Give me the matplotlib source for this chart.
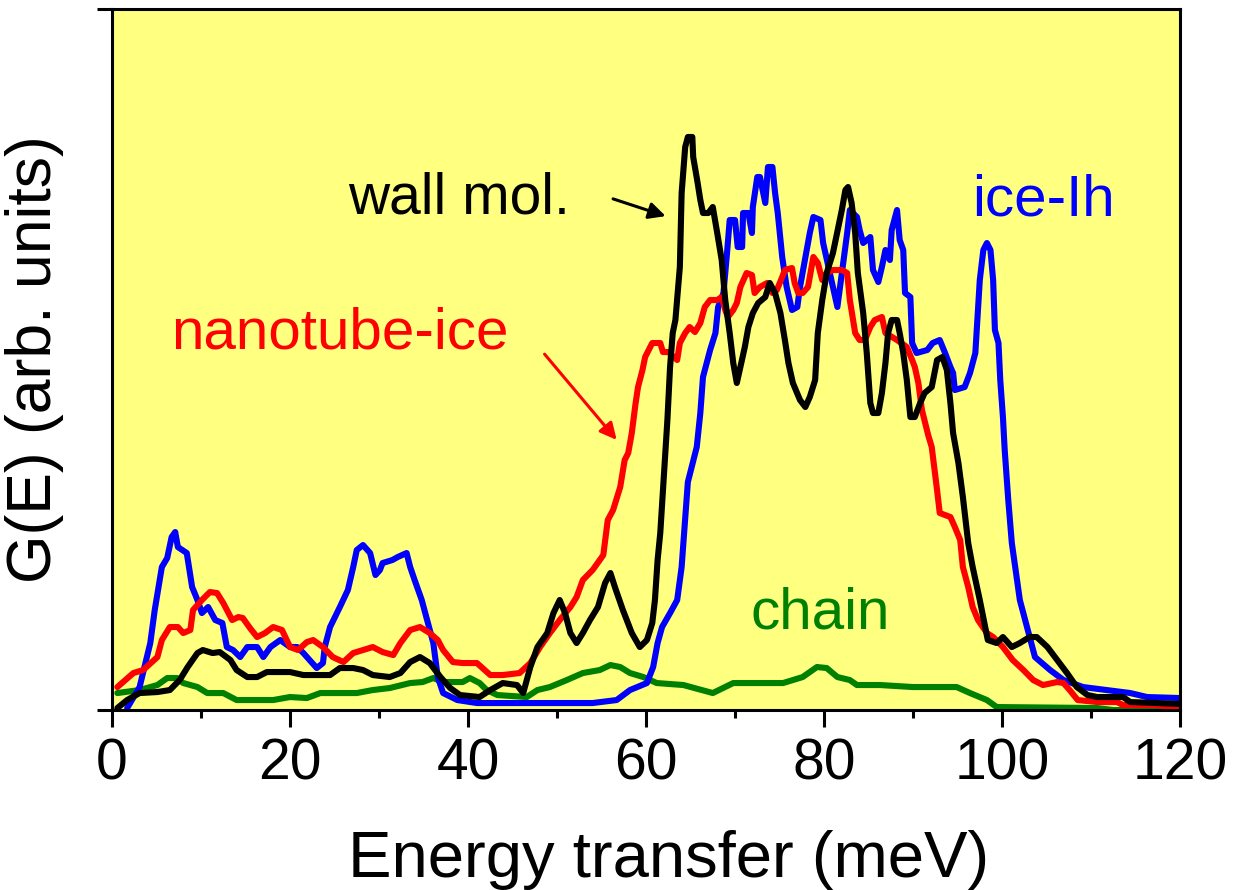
import matplotlib
matplotlib.use('Agg')
import matplotlib.pyplot as plt
from matplotlib.ticker import MultipleLocator

plt.rcParams.update({
    'font.family': ['Liberation Sans', 'DejaVu Sans'],
    'axes.linewidth': 2.2,
})

YELLOW = '#FFFF80'
BLUE = '#0000FF'
RED = '#FF0000'
GREEN = '#008000'
BLACK = '#000000'

# ice-Ih
ice_E = [1.7, 3.1, 4.3, 4.8, 5.6, 6.2, 6.7, 7.1, 7.4, 8.4, 9.0, 9.6, 10.1, 10.8, 11.6,
         12.4, 12.9, 13.6, 14.4, 15.2, 16.3, 17.0, 17.8, 18.9, 20.0, 20.8, 21.5, 22.5,
         23.0, 23.7, 23.9, 24.5, 25.6, 26.5, 27.1, 27.5, 28.2, 29.0, 29.6, 30.1, 30.4,
         31.5, 32.1, 33.1, 33.5, 34.0, 34.8, 35.4, 36.1, 36.6, 37.2, 38.8, 41.0, 54.0,
         56.7, 58.2, 60.1, 60.8, 61.3, 61.8, 62.7, 63.5, 64.0, 64.7, 65.7, 66.1, 66.4,
         67.2, 67.8, 68.1, 68.7, 69.1, 69.4, 70.0, 70.3, 70.8, 70.9, 71.5, 71.9, 72.0,
         72.5, 72.8, 73.4, 73.7, 74.2, 74.5, 74.8, 75.3, 75.8, 76.4, 77.0, 77.3, 78.4,
         78.8, 79.6, 79.9, 80.4, 81.0, 81.5, 81.8, 82.6, 82.9, 83.7, 84.0, 84.4, 85.2,
         85.5, 86.1, 86.5, 86.9, 87.4, 87.6, 88.2, 88.5, 88.9, 89.1, 89.7, 89.9, 90.4,
         91.6, 92.2, 93.0, 93.6, 94.2, 94.5, 94.7, 95.8, 96.4, 97.0, 97.3, 97.5, 97.9,
         98.3, 98.7, 99.0, 99.2, 99.6, 99.8, 100.1, 100.3, 100.7, 101.1, 102.0, 102.9,
         103.7, 105.4, 106.9, 109.1, 111.8, 114.4, 116.3, 120.0]
ice_G = [2, 23, 67, 100, 143, 152, 173, 178, 163, 157, 123, 110, 97, 103, 90,
         87, 63, 60, 53, 63, 63, 53, 63, 70, 63, 63, 57, 47,
         42, 47, 63, 83, 103, 120, 143, 160, 165, 157, 135, 140, 147,
         150, 153, 157, 143, 130, 110, 90, 67, 33, 17, 10, 7, 7,
         10, 20, 27, 43, 67, 83, 97, 110, 143, 228, 263, 297, 333,
         360, 377, 403, 417, 457, 490, 490, 463, 463, 497, 497, 477, 503,
         533, 533, 507, 543, 543, 517, 497, 453, 423, 400, 403, 423, 477,
         493, 490, 467, 447, 423, 403, 423, 477, 500, 493, 480, 467, 473,
         440, 428, 443, 460, 450, 480, 500, 470, 460, 417, 413, 367, 357,
         360, 367, 370, 357, 343, 337, 320, 323, 337, 357, 400, 430, 460,
         467, 460, 430, 380, 367, 330, 293, 260, 210, 167, 110, 80,
         53, 40, 30, 23, 20, 17, 13, 12]

# nanotube-ice
tube_E = [0.6, 2.4, 3.5, 5.1, 5.6, 6.5, 7.4, 8.0, 8.8, 9.1, 10.1, 11.0, 11.8, 12.5, 13.5,
          14.2, 14.7, 15.5, 16.3, 17.2, 18.1, 19.1, 20.0, 20.9, 21.9, 22.6, 23.7, 24.8,
          26.0, 27.1, 28.2, 29.3, 30.4, 31.6, 32.4, 33.5, 34.6, 35.7, 36.6, 37.2, 38.3,
          39.4, 41.0, 42.5, 43.9, 45.8, 47.0, 48.1, 49.2, 50.3, 51.5, 52.2, 52.9, 54.0,
          55.2, 55.7, 56.3, 57.1, 57.6, 58.0, 58.4, 58.8, 59.1, 59.6, 59.9, 60.7, 61.6,
          61.9, 62.5, 63.5, 63.8, 64.4, 64.9, 65.5, 66.1, 66.6, 67.2, 68.0, 68.5, 68.9,
          69.2, 69.8, 70.2, 70.6, 71.3, 71.9, 72.2, 72.8, 73.6, 74.2, 74.7, 75.3, 75.6,
          76.4, 76.7, 77.1, 77.6, 78.2, 78.8, 79.3, 79.8, 80.3, 81.0, 82.0, 82.6, 82.9,
          83.5, 84.0, 84.6, 85.2, 85.7, 86.5, 86.9, 88.2, 89.3, 89.9, 90.2, 90.6, 91.0,
          91.7, 92.1, 92.7, 93.0, 94.2, 94.7, 95.3, 95.6, 96.2, 96.7, 97.3, 98.3, 99.0,
          100.1, 101.2, 102.4, 103.5, 104.6, 106.2, 106.9, 107.6, 108.5, 110.7, 112.9,
          113.6, 117.0, 120.0]
tube_G = [23, 37, 40, 53, 70, 83, 83, 77, 80, 100, 110, 118, 117, 107, 90,
          93, 92, 82, 73, 77, 83, 80, 63, 60, 68, 70, 63, 53,
          48, 57, 60, 63, 58, 55, 67, 80, 83, 77, 70, 60, 48,
          47, 47, 35, 35, 37, 47, 63, 77, 90, 103, 113, 130, 140,
          155, 190, 200, 223, 250, 257, 277, 305, 323, 340, 353, 367, 367,
          358, 358, 350, 367, 377, 383, 378, 387, 403, 410, 410, 413, 400,
          393, 400, 407, 423, 437, 435, 417, 423, 427, 417, 420, 433, 440,
          442, 427, 417, 417, 423, 453, 447, 430, 437, 440, 440, 437, 410,
          377, 370, 370, 383, 390, 393, 377, 370, 363, 350, 343, 327, 300,
          275, 263, 220, 197, 193, 183, 170, 143, 123, 103, 90, 77, 73,
          63, 50, 40, 30, 25, 28, 27, 20, 10, 8, 8,
          5, 5, 3]

# wall molecules
wall_E = [0.6, 1.7, 3.1, 5.1, 6.5, 7.6, 8.5, 9.6, 10.2, 11.3, 12.1, 13.3, 14.0, 15.2, 16.3,
          17.4, 20.0, 21.5, 24.5, 25.6, 27.1, 28.2, 29.3, 31.2, 32.4, 33.5, 34.6, 35.7,
          36.9, 38.0, 39.1, 41.3, 42.5, 43.9, 45.5, 46.2, 47.0, 47.8, 48.9, 49.6, 50.3,
          50.9, 51.5, 52.2, 52.9, 53.7, 54.6, 55.4, 56.0, 56.5, 57.4, 58.4, 59.3, 60.1,
          60.7, 61.0, 61.3, 61.6, 61.9, 62.4, 62.7, 63.0, 63.3, 63.8, 64.0, 64.4, 64.7,
          65.2, 65.3, 65.8, 66.1, 66.4, 67.0, 67.5, 68.0, 68.5, 68.9, 69.4, 69.8, 70.2,
          70.6, 71.1, 71.5, 72.0, 72.6, 73.4, 73.9, 74.5, 75.1, 75.6, 76.0, 76.5, 77.3,
          77.9, 78.4, 79.0, 79.3, 79.8, 80.3, 81.0, 81.6, 82.0, 82.4, 82.7, 83.1, 83.5,
          83.8, 84.4, 84.8, 85.2, 85.5, 86.1, 86.5, 86.9, 87.2, 87.6, 88.2, 88.5, 88.9,
          89.3, 89.7, 90.2, 90.8, 91.3, 92.1, 92.7, 93.3, 93.8, 94.2, 94.5, 95.1, 95.6,
          96.2, 96.7, 97.5, 98.1, 98.4, 99.4, 100.1, 101.1, 102.0, 103.1, 103.9, 105.1,
          106.2, 107.3, 108.4, 109.6, 110.7, 113.6, 114.4, 117.4, 120.0]
wall_G = [2, 10, 17, 18, 20, 30, 43, 57, 60, 57, 58, 50, 40, 33, 33,
          38, 38, 35, 35, 42, 42, 40, 35, 33, 37, 48, 53, 47,
          33, 22, 15, 13, 20, 27, 25, 17, 43, 63, 77, 97, 110,
          97, 77, 67, 77, 90, 103, 127, 137, 123, 100, 77, 63, 70,
          87, 110, 150, 177, 220, 290, 343, 377, 390, 443, 517, 563, 573,
          573, 553, 527, 510, 497, 497, 503, 477, 450, 410, 377, 347, 327,
          343, 363, 383, 397, 407, 413, 427, 417, 397, 370, 347, 327, 310,
          303, 313, 330, 377, 410, 437, 457, 483, 500, 520, 523, 507, 477,
          437, 397, 357, 307, 297, 297, 317, 347, 377, 390, 390, 377, 357,
          330, 293, 293, 307, 317, 323, 350, 353, 340, 307, 277, 247, 213,
          167, 143, 110, 83, 70, 67, 73, 63, 67, 73, 73, 63,
          50, 37, 23, 15, 13, 13, 8, 7, 6]

# chain
chain_E = [0.6, 3.1, 5.1, 6.2, 7.3, 8.0, 9.6, 10.7, 12.5, 14.0, 18.1, 20.0, 21.9, 23.4,
           27.5, 29.3, 31.2, 33.5, 34.9, 36.1, 37.2, 39.4, 40.2, 41.3, 42.1, 43.3, 46.6,
           47.8, 49.2, 51.1, 52.9, 54.8, 56.0, 57.1, 58.2, 59.7, 61.2, 64.2, 67.5, 69.8,
           72.5, 75.4, 77.6, 79.2, 80.3, 81.5, 82.9, 83.7, 86.3, 90.0, 94.9, 96.4, 98.3,
           99.4, 110.7, 112.5, 120.0]
chain_G = [17, 20, 25, 32, 32, 27, 23, 17, 17, 10, 10, 13, 12, 17,
           17, 20, 22, 27, 28, 32, 28, 28, 32, 27, 20, 15, 13,
           20, 23, 30, 37, 40, 45, 43, 37, 33, 27, 25, 17, 27,
           27, 27, 33, 43, 42, 33, 30, 25, 25, 23, 23, 17, 10,
           3, 2, 0, 0]

fig = plt.figure(figsize=(12.35, 8.9), dpi=100)
ax = fig.add_axes([0.0907, 0.2022, 0.8648, 0.7877])
ax.set_facecolor(YELLOW)

lw = 4.4
for E, G, c in [(chain_E, chain_G, GREEN), (ice_E, ice_G, BLUE),
                (tube_E, tube_G, RED), (wall_E, wall_G, BLACK)]:
    ax.plot(E, G, color=c, lw=lw, solid_joinstyle='round', solid_capstyle='round')

ax.set_xlim(0, 120)
ax.set_ylim(0, 701)
ax.xaxis.set_major_locator(MultipleLocator(20))
ax.xaxis.set_minor_locator(MultipleLocator(10))
ax.set_yticks([0, 701])
ax.set_yticklabels([])
ax.tick_params(axis='x', which='major', direction='out', length=12, width=2.2,
               labelsize=41, pad=8)
ax.tick_params(axis='x', which='minor', direction='out', length=6, width=2.2)
ax.tick_params(axis='y', direction='out', length=11, width=2.2)

ax.set_xlabel('Energy transfer (meV)', fontsize=47)
ax.xaxis.set_label_coords(0.5215, -0.238, transform=ax.transAxes)
ax.xaxis.label.set_va('baseline')
ax.set_ylabel('G(E) (arb. units)', fontsize=45, labelpad=20)

# curve labels
ax.text(26.5, 497, 'wall mol.', color=BLACK, fontsize=41, va='baseline')
ax.text(6.6, 362, 'nanotube-ice', color=RED, fontsize=42, va='baseline')
ax.text(96.6, 495, 'ice-Ih', color=BLUE, fontsize=42, va='baseline')
ax.text(71.7, 82, 'chain', color=GREEN, fontsize=42, va='baseline')

ax.annotate('', xy=(62.5, 493), xytext=(56.0, 512),
            arrowprops=dict(arrowstyle='-|>', color=BLACK, lw=2.2, mutation_scale=25))
ax.annotate('', xy=(56.9, 268), xytext=(48.4, 358),
            arrowprops=dict(arrowstyle='-|>', color=RED, lw=2.2, mutation_scale=25))

fig.savefig('out.png', dpi=100)
